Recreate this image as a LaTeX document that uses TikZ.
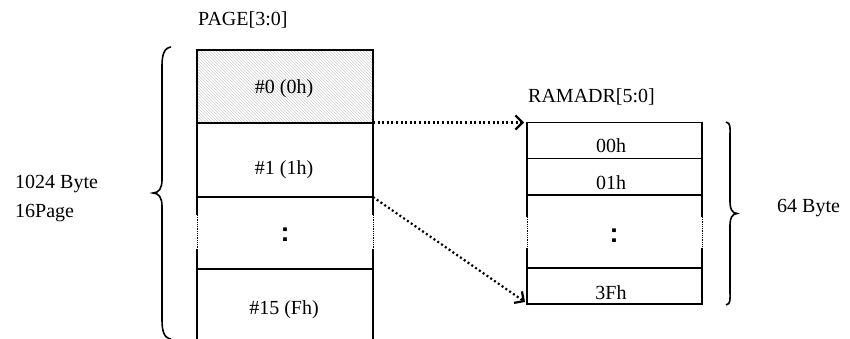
\documentclass[tikz,border=0pt]{standalone}
\usepackage{fontspec}
\setmainfont{Liberation Serif}
\newfontfamily\colonfont{Liberation Sans}
\usetikzlibrary{arrows.meta,patterns}
\begin{document}
\begin{tikzpicture}[x=1pt,y=-1pt,
  frame/.style={line width=1.8pt},
  thindots/.style={line width=1pt, dash pattern=on 0.9pt off 0.9pt},
  link/.style={line width=2.2pt, dash pattern=on 2pt off 2.6pt,
     -{Straight Barb[length=7pt,width=14pt,line width=2.2pt]}},
  lbl/.style={font=\fontsize{20}{29}\selectfont, inner sep=0pt},
  colondots/.style={font=\colonfont\bfseries\fontsize{27}{27}\selectfont, inner sep=0pt},
  bracepath/.style={line width=1.6pt}]
\useasboundingbox (0,0) rectangle (850,339);
% left column
\fill[pattern=north west lines, pattern color=gray!40] (197,50) rectangle (373,123);
\draw[frame] (197,215) -- (197,50) -- (373,50) -- (373,215);
\draw[frame] (197,249) -- (197,339);
\draw[frame] (373,249) -- (373,339);
\draw[thindots] (197,215) -- (197,249);
\draw[thindots] (373,215) -- (373,249);
\draw[line width=2.3pt] (197,123) -- (373,123);
\draw[frame] (197,197) -- (373,197);
\draw[frame] (197,269) -- (373,269);
% right column
\draw[frame] (527,217) -- (527,122.5) -- (702,122.5) -- (702,217);
\draw[frame] (527,248) -- (527,304) -- (702,304) -- (702,248);
\draw[thindots] (527,217) -- (527,248);
\draw[thindots] (702,217) -- (702,248);
\draw[frame] (527,158.5) -- (702,158.5);
\draw[frame] (527,195) -- (702,195);
\draw[frame] (527,268) -- (702,268);
% labels
\node[lbl, anchor=base west] (page) at (198,26) {PAGE[3:0]};
\node[lbl, anchor=base west] (size1) at (15,188) {1024 Byte};
\node[lbl, anchor=base west] (size2) at (15,217) {16Page};
\node[lbl, anchor=base] (c0) at (284,94) {\#0 (0h)};
\node[lbl, anchor=base] (c1) at (284,175) {\#1 (1h)};
\node[colondots] (cdots) at (285,235) {:};
\node[lbl, anchor=base] (c15) at (284,314) {\#15 (Fh)};
\node[lbl, anchor=base west] (ram) at (528,103) {RAMADR[5:0]};
\node[lbl, anchor=base] (r0) at (611,152.5) {00h};
\node[lbl, anchor=base] (r1) at (611,189) {01h};
\node[colondots] (rdots) at (614,236) {:};
\node[lbl, anchor=base] (r3f) at (611,299) {3Fh};
\node[lbl, anchor=base west] (size3) at (777,212) {64 Byte};
% braces
\draw[bracepath] (171,47) .. controls (164,48) and (162,55) .. (162,66) -- (162,180)
  .. controls (162,188) and (159,193) .. (153,193)
  .. controls (159,193) and (162,198) .. (162,206) -- (162,320)
  .. controls (162,331) and (164,338) .. (171,339);
\draw[bracepath] (726,122) .. controls (731,123) and (730,128) .. (730,136) -- (730,202)
  .. controls (730,209) and (732,213) .. (737,213.5)
  .. controls (732,214) and (730,218) .. (730,225) -- (730,291)
  .. controls (730,299) and (731,304) .. (726,305);
% connectors
\coordinate (a0) at (373,122.5);
\coordinate (b0) at (524,122.5);
\coordinate (a1) at (373,197);
\coordinate (b1) at (525,302);
\draw[link] (a0) -- (b0);
\draw[link] (a1) -- (b1);
\end{tikzpicture}
\end{document}
